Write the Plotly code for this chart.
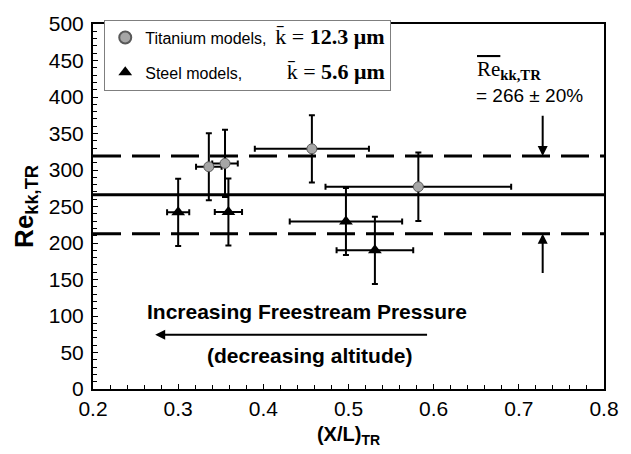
import plotly.graph_objects as go

# ---- data ----
ti_x = [0.336, 0.355, 0.457, 0.582]
ti_y = [304.5, 309, 329, 277]
ti_xerr = [0.015, 0.015, 0.067, 0.109]
ti_yerr = [46, 46, 46, 47]

st_x = [0.300, 0.359, 0.497, 0.531]
st_y = [242, 242.5, 229.5, 190]
st_xerr = [0.013, 0.016, 0.066, 0.045]
st_yerr = [46, 46, 46, 46]

mean_re = 266
tol = 0.20
x_range = [0.2, 0.8]
y_range = [0, 500]
x_ticks = [0.2, 0.3, 0.4, 0.5, 0.6, 0.7, 0.8]
y_ticks = [0, 50, 100, 150, 200, 250, 300, 350, 400, 450, 500]

SERIF = "Liberation Serif"
SANS = "Arial, Liberation Sans, sans-serif"

ti_name = ("Titanium models,\u00a0 <span style='font-family:Liberation Serif;font-size:22px'>"
           "k\u0304 = <b>12.3 \u03bcm</b></span>")
st_name = ("Steel models,\u00a0\u00a0\u00a0\u00a0\u00a0\u00a0\u00a0\u00a0\u00a0 <span style='font-family:Liberation Serif;font-size:22px'>"
           "k\u0304 = <b>5.6 \u03bcm</b></span>")

fig = go.Figure()

upper = mean_re * (1 + tol)
lower = mean_re * (1 - tol)

# reference lines
fig.add_trace(go.Scatter(x=x_range, y=[mean_re, mean_re], mode="lines",
                         line=dict(color="black", width=3), showlegend=False, hoverinfo="skip"))
for v in (upper, lower):
    fig.add_trace(go.Scatter(x=x_range, y=[v, v], mode="lines",
                             line=dict(color="black", width=3, dash="28px,11px"),
                             showlegend=False, hoverinfo="skip"))

err_style = dict(type="data", color="black", thickness=2, width=3)

fig.add_trace(go.Scatter(
    x=ti_x, y=ti_y, mode="markers", name=ti_name, legendgroup="ti",
    marker=dict(symbol="circle", size=10, color="#a6a6a6",
                line=dict(color="#595959", width=1)),
    error_x=dict(array=ti_xerr, **err_style),
    error_y=dict(array=ti_yerr, **err_style),
))
fig.add_trace(go.Scatter(
    x=st_x, y=st_y, mode="markers", name=st_name, legendgroup="st",
    marker=dict(symbol="triangle-up", size=12, color="black",
                line=dict(color="black", width=0)),
    error_x=dict(array=st_xerr, **err_style),
    error_y=dict(array=st_yerr, **err_style),
))

annotations = [
    # arrows marking the +/-20% band
    dict(x=0.728, y=upper, ax=0.728, ay=376.5, xref="x", yref="y", axref="x", ayref="y",
         text="", showarrow=True, arrowhead=2, arrowsize=1, arrowwidth=2, arrowcolor="black"),
    dict(x=0.728, y=lower, ax=0.728, ay=157, xref="x", yref="y", axref="x", ayref="y",
         text="", showarrow=True, arrowhead=2, arrowsize=1, arrowwidth=2, arrowcolor="black"),
    # pressure arrow
    dict(x=0.273, y=74.2, ax=0.594, ay=74.2, xref="x", yref="y", axref="x", ayref="y",
         text="", showarrow=True, arrowhead=2, arrowsize=1, arrowwidth=2, arrowcolor="black"),
    dict(x=0.4515, y=105.5, xref="x", yref="y", showarrow=False,
         text="<b>Increasing Freestream Pressure</b>",
         font=dict(family=SANS, size=21, color="black")),
    dict(x=0.454, y=46.3, xref="x", yref="y", showarrow=False,
         text="<b>(decreasing altitude)</b>",
         font=dict(family=SANS, size=21, color="black")),
    dict(x=0.649, y=437, xref="x", yref="y", xanchor="left", showarrow=False,
         text="<span style='text-decoration:overline'>Re</span><b><sub>kk,TR</sub></b>",
         font=dict(family=SERIF, size=21, color="black")),
    dict(x=0.647, y=401.5, xref="x", yref="y", xanchor="left", showarrow=False,
         text="= 266 \u00b1 20%",
         font=dict(family=SANS, size=19, color="black")),
]

axis_common = dict(showline=True, mirror=True, linewidth=2, linecolor="black",
                   showgrid=False, zeroline=False, ticks="inside", ticklen=5,
                   tickwidth=1, tickcolor="black",
                   tickfont=dict(family=SANS, size=21, color="black"))

fig.update_layout(
    width=631, height=454,
    margin=dict(l=93, r=25, t=12, b=61),
    paper_bgcolor="white", plot_bgcolor="white",
    font=dict(family=SANS, color="black"),
    showlegend=True,
    legend=dict(x=0.022, y=1.012, xanchor="left", yanchor="top",
                bgcolor="white", bordercolor="#7f7f7f", borderwidth=1,
                font=dict(family=SANS, size=16, color="black"),
                tracegroupgap=11, itemsizing="constant"),
    annotations=annotations,
    xaxis=dict(range=x_range, tickvals=x_ticks, tickformat=".1f",
               minor=dict(dtick=0.02, ticks="inside", ticklen=4, tickcolor="black"),
               title=dict(text="<b>(X/L)<sub>TR</sub></b>", standoff=8,
                          font=dict(family=SANS, size=20, color="black")),
               **axis_common),
    yaxis=dict(range=y_range, tickvals=y_ticks, ticklabelstandoff=3,
               minor=dict(dtick=10, ticks="inside", ticklen=4, tickcolor="black"),
               title=dict(text="<b>Re<sub>kk,TR</sub></b>", standoff=8,
                          font=dict(family=SANS, size=26, color="black")),
               **axis_common),
)

fig.write_html("out.html")
